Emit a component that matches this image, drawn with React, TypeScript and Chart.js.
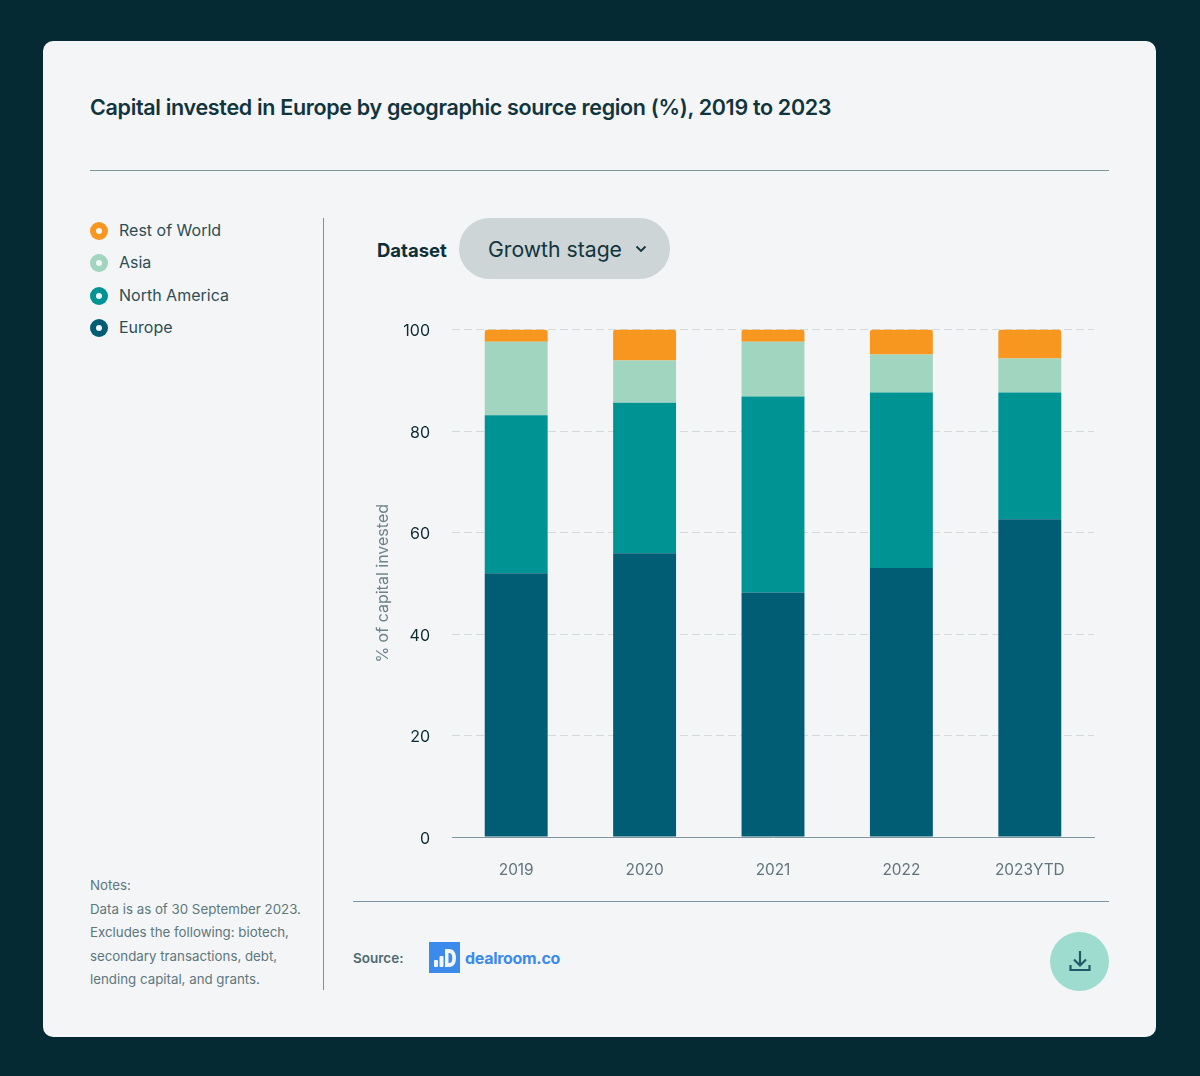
import React, { useEffect, useRef } from "react";
import { Chart, registerables } from "chart.js";

Chart.register(...registerables);

const categories = ["2019", "2020", "2021", "2022", "2023YTD"];
const europe = [52, 55.9, 48.2, 53, 62.6];
const northAmerica = [31.1, 29.7, 38.6, 34.6, 25];
const asia = [14.5, 8.3, 10.8, 7.5, 6.7];
const restOfWorld = [2.4, 6.1, 2.4, 4.9, 5.7];
const legendItems = [
  ["Rest of World", "#f8971f"],
  ["Asia", "#a1d5bf"],
  ["North America", "#009394"],
  ["Europe", "#005d74"],
];
const notes = [
  "Notes:",
  "Data is as of 30 September 2023.",
  "Excludes the following: biotech,",
  "secondary transactions, debt,",
  "lending capital, and grants.",
];
const FONT = "Inter, Roboto, sans-serif";

const abs = (l: number, t: number, extra: React.CSSProperties = {}): React.CSSProperties => ({
  position: "absolute",
  left: l,
  top: t,
  whiteSpace: "nowrap",
  ...extra,
});

export default function App() {
  const ref = useRef<HTMLCanvasElement>(null);
  useEffect(() => {
    const chart = new Chart(ref.current!, {
      type: "bar",
      data: {
        labels: categories,
        datasets: [
          { label: "Europe", data: europe, backgroundColor: "#005d74" },
          { label: "North America", data: northAmerica, backgroundColor: "#009394" },
          { label: "Asia", data: asia, backgroundColor: "#a1d5bf" },
          {
            label: "Rest of World",
            data: restOfWorld,
            backgroundColor: "#f8971f",
            borderRadius: { topLeft: 3, topRight: 3, bottomLeft: 0, bottomRight: 0 },
            borderSkipped: false,
          },
        ],
      },
      options: {
        animation: false,
        responsive: false,
        maintainAspectRatio: false,
        layout: { padding: { top: 0, right: 2, left: 0, bottom: 0 } },
        datasets: { bar: { categoryPercentage: 0.49, barPercentage: 1 } },
        plugins: { legend: { display: false }, tooltip: { enabled: false } },
        scales: {
          x: {
            stacked: true,
            grid: { display: false, drawTicks: false },
            border: { color: "#7f95a0", width: 1, z: -1 },
            ticks: {
              color: "#5f747b",
              font: { family: FONT, size: 15.4 },
              padding: 24,
              maxRotation: 0,
            },
            afterFit: (s: any) => {
              s.height = 53;
            },
          },
          y: {
            stacked: true,
            min: 0,
            max: 100,
            grid: {
              color: (c: any) => (c.tick && c.tick.value === 0 ? "rgba(0,0,0,0)" : "#d3dbdd"),
              drawTicks: false,
            },
            border: { display: false, dash: [8, 4] },
            ticks: {
              stepSize: 20,
              color: "#0d2b33",
              font: { family: FONT, size: 16 },
              padding: 22,
              labelOffset: 2,
            },
            title: {
              display: true,
              text: "% of capital invested",
              color: "#6b8389",
              font: { family: FONT, size: 16 },
              padding: { top: 12, bottom: 0 },
            },
            afterFit: (s: any) => {
              s.width = 90;
            },
          },
        },
      },
    });
    return () => chart.destroy();
  }, []);

  return (
    <div style={{ position: "absolute", left: 0, top: 0, width: 1200, height: 1076, background: "#052a33", overflow: "hidden", fontFamily: FONT }}>
      <div style={abs(43, 41, { width: 1113, height: 996, background: "#f3f5f7", borderRadius: 10 })} />
      <div style={abs(90, 93, { fontSize: 21.5, lineHeight: "28px", fontWeight: 600, color: "#11343d", letterSpacing: -0.32 })}>
        Capital invested in Europe by geographic source region (%), 2019 to 2023
      </div>
      <div style={abs(90, 170, { width: 1019, height: 1, background: "#7f989c" })} />
      <div style={abs(323, 218, { width: 1, height: 772, background: "#7f8f96" })} />
      <div style={abs(353, 901, { width: 756, height: 1, background: "#7f95a6" })} />

      {legendItems.map(([name, color], i) => (
        <React.Fragment key={name}>
          <div style={abs(90, 222 + i * 32.3, { width: 18, height: 18, borderRadius: 9, background: color, display: "flex", alignItems: "center", justifyContent: "center" })}>
            <div style={{ width: 6, height: 6, borderRadius: 3, background: "#f3f5f7" }} />
          </div>
          <div style={abs(119, 218 + i * 32.3, { fontSize: 16, lineHeight: "24px", color: "#2f4d55" })}>{name}</div>
        </React.Fragment>
      ))}

      {notes.map((t, i) => (
        <div key={t} style={abs(90, 875 + i * 23.5, { fontSize: 13.3, lineHeight: "20px", color: "#5d777d" })}>{t}</div>
      ))}

      <div style={abs(377, 238, { fontSize: 18.5, lineHeight: "24px", fontWeight: 700, color: "#0f2f38" })}>Dataset</div>
      <div style={abs(459, 218, { width: 211, height: 61, borderRadius: 30.5, background: "#cdd5d7" })} />
      <div style={abs(488, 234, { fontSize: 21.2, lineHeight: "30px", color: "#11343d" })}>Growth stage</div>
      <svg style={abs(635, 244)} width="12" height="10" viewBox="0 0 12 10">
        <path d="M1.5 2.5 L6 7 L10.5 2.5" fill="none" stroke="#11343d" strokeWidth="1.8" />
      </svg>

      <canvas ref={ref} width={734} height={592} style={abs(362, 298, { width: 734, height: 592 })} />

      <div style={abs(353, 949, { fontSize: 13.5, lineHeight: "18px", fontWeight: 600, color: "#4f6a72" })}>Source:</div>
      <svg style={abs(429, 942)} width="31" height="31" viewBox="0 0 31 31">
        <rect width="31" height="31" fill="#3b8aec" />
        <rect x="5" y="18" width="4" height="7" rx="1" fill="#f3f5f7" />
        <rect x="10.5" y="14" width="4" height="11" rx="1" fill="#f3f5f7" />
        <path fillRule="evenodd" d="M16 7 H20 C25 7 27 11 27 16 C27 21 25 25 20 25 H16 Z M19.5 11 V21 H20 C22.5 21 23.3 19 23.3 16 C23.3 13 22.5 11 20 11 Z" fill="#f3f5f7" />
      </svg>
      <div style={abs(465, 946, { fontSize: 16, lineHeight: "24px", fontWeight: 700, color: "#3b8aec", letterSpacing: -0.3 })}>dealroom.co</div>

      <div style={abs(1050, 931.5, { width: 59, height: 59, borderRadius: 29.5, background: "#9fdcd0" })} />
      <svg style={abs(1066, 947)} width="28" height="28" viewBox="0 0 28 28">
        <path d="M14 4 V18 M8 12.5 L14 18.5 L20 12.5 M4.5 18 V23 H23.5 V18" fill="none" stroke="#1f5a66" strokeWidth="2.2" />
      </svg>
    </div>
  );
}
